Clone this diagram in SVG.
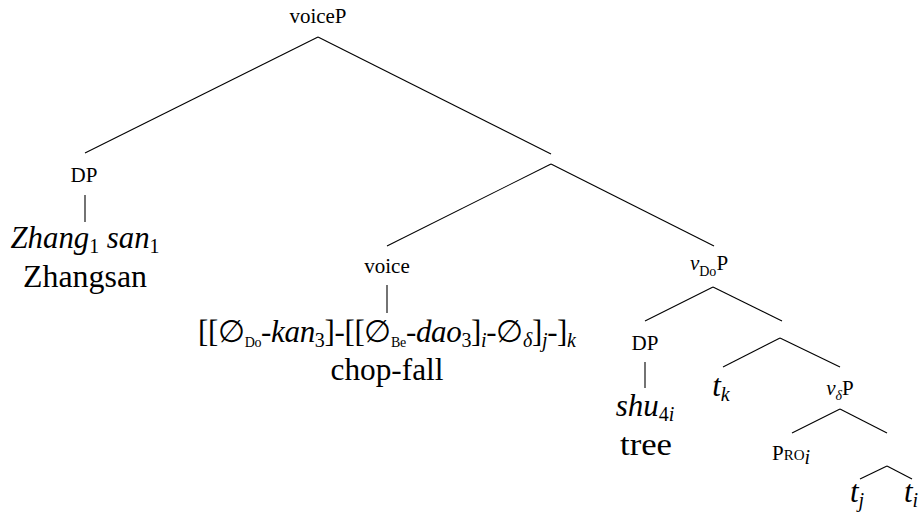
<svg xmlns="http://www.w3.org/2000/svg" width="923" height="518" viewBox="0 0 923 518">
<style>
.lbl{font-family:"Liberation Serif",serif;fill:#000;text-anchor:middle;font-size:21px}
.big{font-family:"Liberation Serif",serif;fill:#000;text-anchor:middle;font-size:31px}
.it{font-style:italic}
.sub{font-size:20px}
.ssub{font-size:14px}
.sc{font-variant:small-caps}
.edge{stroke:#000;stroke-width:1.1}
</style>
<rect width="923" height="518" fill="#fff"/>
<g id="connectors" class="edge">
<line x1="318" y1="37" x2="85" y2="153"/>
<line x1="318" y1="37" x2="551" y2="154"/>
<line x1="551" y1="164" x2="387" y2="246"/>
<line x1="551" y1="164" x2="714" y2="246"/>
<line x1="85" y1="195" x2="85" y2="222"/>
<line x1="387" y1="285" x2="387" y2="313"/>
<line x1="713" y1="287" x2="645" y2="321"/>
<line x1="713" y1="287" x2="782" y2="321"/>
<line x1="645" y1="362" x2="645" y2="388"/>
<line x1="780" y1="338" x2="723" y2="367"/>
<line x1="780" y1="338" x2="840" y2="367"/>
<line x1="840" y1="409" x2="792" y2="433"/>
<line x1="840" y1="409" x2="887" y2="433"/>
<line x1="887" y1="466" x2="860" y2="479"/>
<line x1="887" y1="466" x2="912" y2="479"/>
</g>
<g id="voiceP"><text class="lbl" font-family="Liberation Serif" x="318" y="23" textLength="57" lengthAdjust="spacingAndGlyphs">voiceP</text></g>
<g id="DP1">
<text class="lbl" font-family="Liberation Serif" x="84" y="182">DP</text>
<text class="big" font-family="Liberation Serif" x="85" y="248" textLength="149" lengthAdjust="spacingAndGlyphs"><tspan class="it">Zhang</tspan><tspan class="sub" dy="5">1</tspan><tspan class="it" dy="-5"> san</tspan><tspan class="sub" dy="5">1</tspan></text>
<text class="big" font-family="Liberation Serif" x="85" y="287" textLength="124" lengthAdjust="spacingAndGlyphs">Zhangsan</text>
</g>
<g id="voice">
<text class="lbl" font-family="Liberation Serif" x="387" y="273">voice</text>
<text class="big" font-family="Liberation Serif" x="387" y="342" textLength="378" lengthAdjust="spacing">[[∅<tspan class="ssub" dy="5">Do</tspan><tspan dy="-5">-</tspan><tspan class="it">kan</tspan><tspan class="sub" dy="5">3</tspan><tspan dy="-5">]-[[∅</tspan><tspan class="ssub" dy="5">Be</tspan><tspan dy="-5">-</tspan><tspan class="it">dao</tspan><tspan class="sub" dy="5">3</tspan><tspan dy="-5">]</tspan><tspan class="sub it" dy="5">i</tspan><tspan dy="-5">-∅</tspan><tspan class="sub it" dy="5">δ</tspan><tspan dy="-5">]</tspan><tspan class="sub it" dy="5">j</tspan><tspan dy="-5">-]</tspan><tspan class="sub it" dy="5">k</tspan></text>
<text class="big" font-family="Liberation Serif" x="387" y="380" textLength="113" lengthAdjust="spacingAndGlyphs">chop-fall</text>
</g>
<g id="vDoP">
<text class="lbl" font-family="Liberation Serif" x="709" y="270"><tspan class="it">v</tspan><tspan class="ssub" dy="6">Do</tspan><tspan dy="-6">P</tspan></text>
</g>
<g id="DP2">
<text class="lbl" font-family="Liberation Serif" x="645" y="350">DP</text>
<text class="big" font-family="Liberation Serif" x="645" y="416"><tspan class="it">shu</tspan><tspan class="sub" dy="5">4</tspan><tspan class="sub it">i</tspan></text>
<text class="big" font-family="Liberation Serif" x="646" y="455" textLength="52" lengthAdjust="spacingAndGlyphs">tree</text>
</g>
<g id="tk"><text class="big it" font-family="Liberation Serif" x="721" y="396">t<tspan class="sub" dy="5">k</tspan></text></g>
<g id="vdP"><text class="lbl" font-family="Liberation Serif" x="840" y="395"><tspan class="it">v</tspan><tspan class="ssub it" dy="5">δ</tspan><tspan dy="-5">P</tspan></text></g>
<g id="PRO"><text class="lbl" font-family="Liberation Serif" x="791" y="460"><tspan class="sc">Pro</tspan><tspan class="sub it" dy="4">i</tspan></text></g>
<g id="tj"><text class="big it" font-family="Liberation Serif" x="857" y="502">t<tspan class="sub" dy="5">j</tspan></text></g>
<g id="ti"><text class="big it" font-family="Liberation Serif" x="911" y="502">t<tspan class="sub" dy="5">i</tspan></text></g>
</svg>
